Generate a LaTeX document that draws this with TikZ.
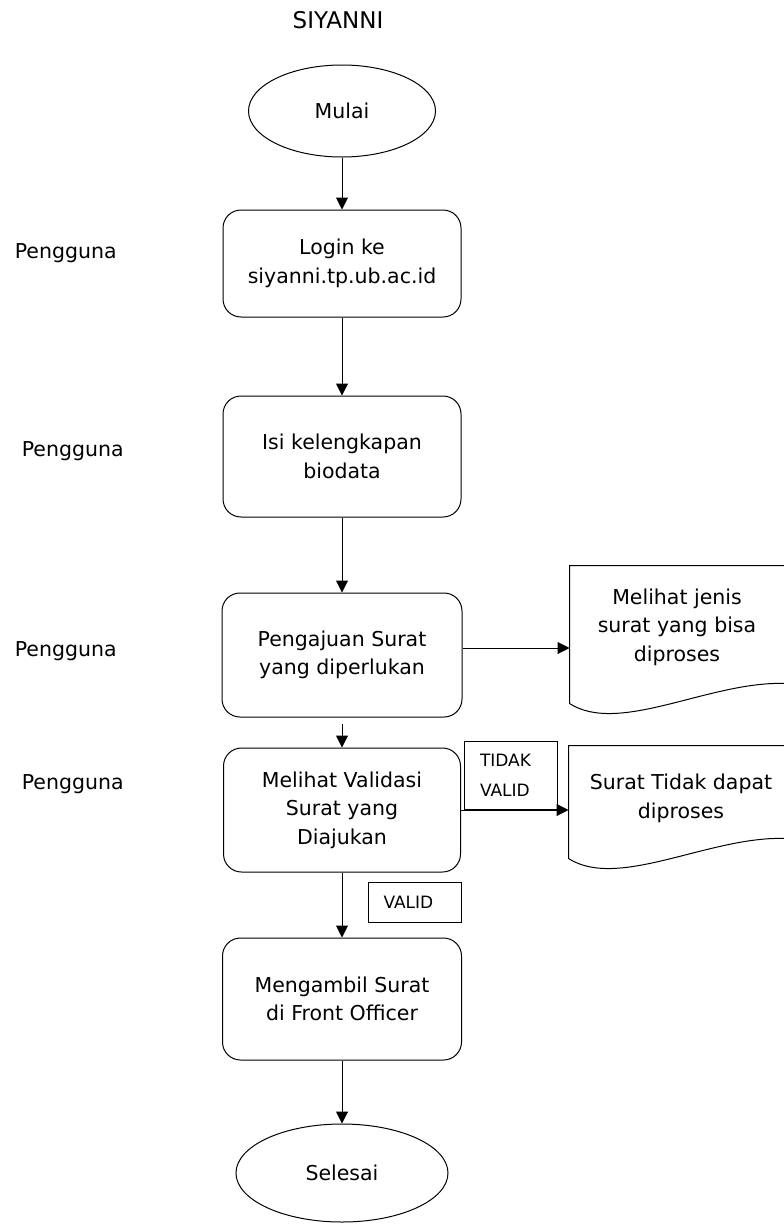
\documentclass[tikz,border=0pt]{standalone}
\usepackage{fontspec}
\setmainfont{DejaVu Sans}
\usetikzlibrary{arrows.meta,shapes.geometric}

\begin{document}
\begin{tikzpicture}[x=1pt,y=-1pt,line width=1pt]
      \useasboundingbox (0,0) rectangle (784,1224);
      \node (judul) at (338,20) {\fontsize{23}{28}\selectfont SIYANNI};
      \begin{scope}[every node/.style={anchor=west,font=\fontsize{20.5}{28}\selectfont}]
        \node (p1) at (11,253) {Pengguna};
        \node (p2) at (18,451) {Pengguna};
        \node (p3) at (11,651) {Pengguna};
        \node (p4) at (18,784) {Pengguna};
      \end{scope}
      \begin{scope}[every node/.style={draw,align=center,font=\fontsize{20.5}{28.5}\selectfont}]
        \node[ellipse,minimum width=187pt,minimum height=92pt] (mulai) at (342,111) {Mulai};
        \node[rectangle,rounded corners=18pt,minimum width=238pt,minimum height=107pt] (login) at (342,263.5) {Login ke\\siyanni.tp.ub.ac.id};
        \node[rectangle,rounded corners=18pt,minimum width=238pt,minimum height=121pt] (isi) at (342,456.5) {Isi kelengkapan\\biodata};
        \node[rectangle,rounded corners=18pt,minimum width=240pt,minimum height=124pt] (ajuan) at (342,655) {Pengajuan Surat\\yang diperlukan};
        \node[rectangle,rounded corners=18pt,minimum width=237pt,minimum height=124pt] (validasi) at (342,810) {Melihat Validasi\\Surat yang\\Diajukan};
        \node[rectangle,rounded corners=18pt,minimum width=239pt,minimum height=122pt] (ambil) at (342,999) {Mengambil Surat\\di Front Officer};
        \node[ellipse,minimum width=212pt,minimum height=98pt] (selesai) at (342,1173) {Selesai};
      \end{scope}
      % dokumen
      \begin{scope}[every node/.style={align=center,font=\fontsize{20.5}{28.5}\selectfont}]
        \node[minimum width=215pt,minimum height=137pt] (jenis) at (677.5,634.5) {};
        \node[minimum width=216pt,minimum height=112pt] (tolak) at (677,802) {};
        \node (jenisT) at (677,627) {Melihat jenis\\surat yang bisa\\diproses};
        \node (tolakT) at (681,798.5) {Surat Tidak dapat\\diproses};
      \end{scope}
      \draw (jenis.north east) -- (jenis.north west) -- (jenis.south west)
        .. controls +(50,32) and +(-75,-3) .. ([yshift=20pt]jenis.south east);
      \draw (tolak.north east) -- (tolak.north west) -- (tolak.south west)
        .. controls +(50,32) and +(-75,-3) .. ([yshift=20pt]tolak.south east);
      \begin{scope}[every node/.style={draw,align=left,font=\fontsize{17}{30}\selectfont}]
        \node[text width=61pt,inner xsep=16pt,minimum height=68pt] (tidak) at (510.5,775) {TIDAK\\VALID};
        \node[text width=63pt,inner xsep=15pt,minimum height=40pt] (valid) at (415,902) {VALID};
      \end{scope}
      \begin{scope}[>={Triangle[length=12pt,width=12pt]}]
        \path [->] (mulai) edge (login);
        \path [->] (login) edge (isi);
        \path [->] (isi) edge (ajuan);
        \path [->] (ajuan) edge[shorten <=6pt] (validasi);
        \path [->] (validasi) edge (ambil);
        \path [->] (ambil) edge (selesai);
        \path [->] ([yshift=7pt]ajuan.east) edge ([yshift=7pt]ajuan.east -| jenis.west);
        \path [->] (validasi.east) edge (validasi.east -| tolak.west);
      \end{scope}
    \end{tikzpicture}
\end{document}
